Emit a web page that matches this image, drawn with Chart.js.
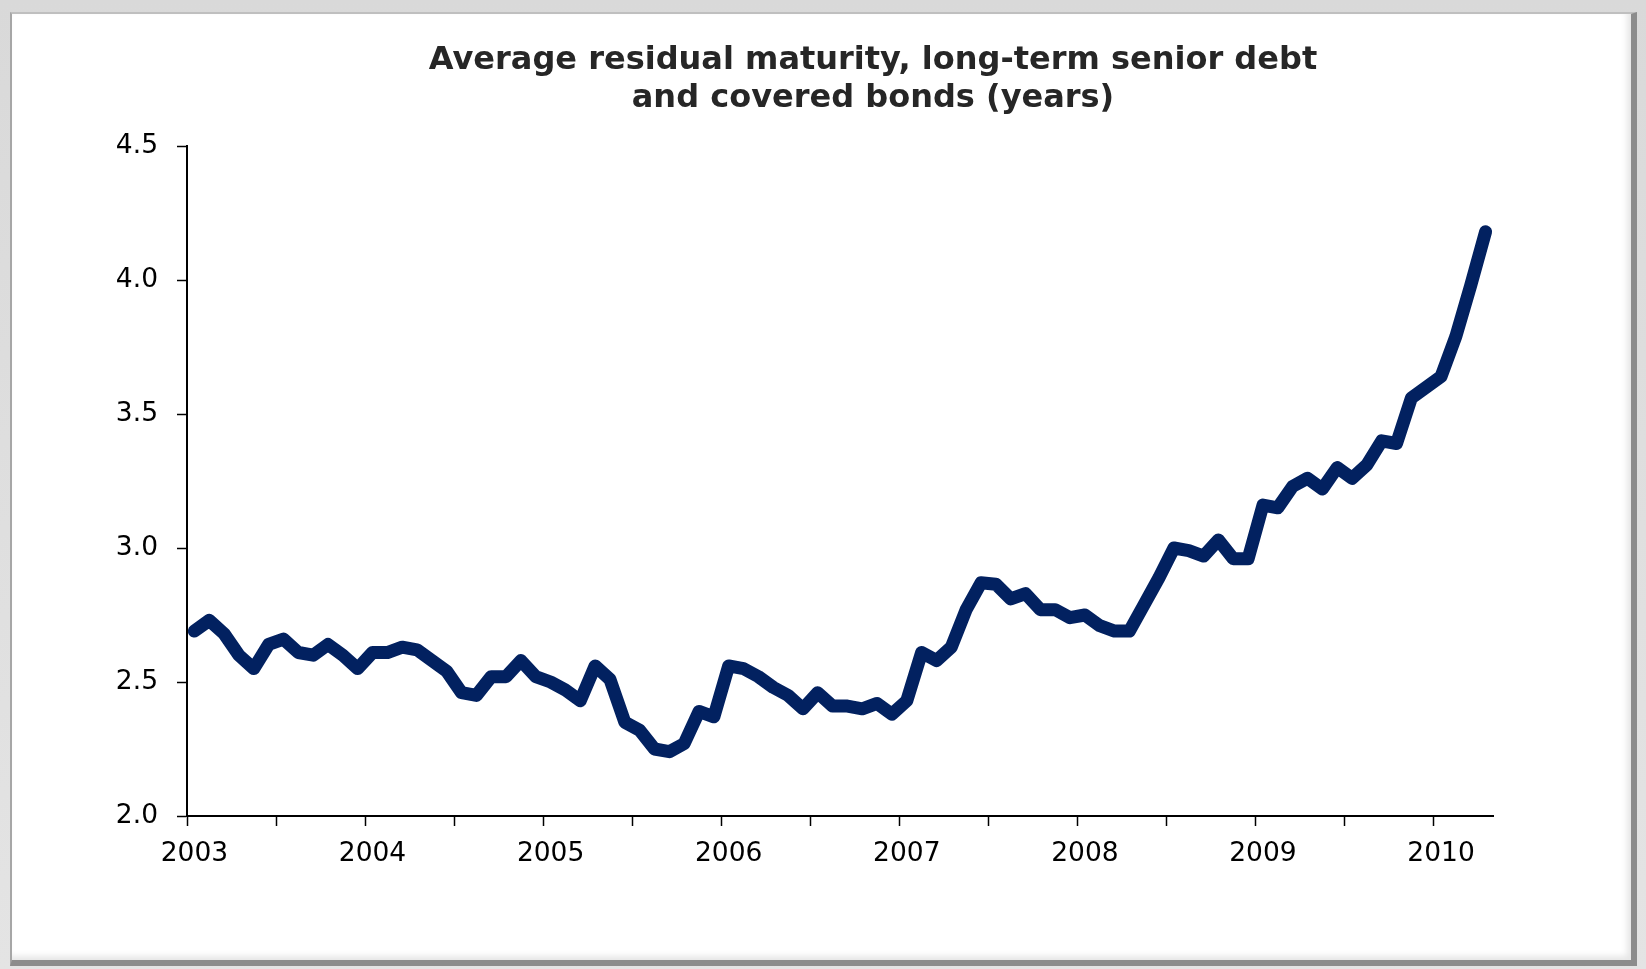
<!DOCTYPE html>
<html>
<head>
<meta charset="utf-8">
<script src="https://cdn.jsdelivr.net/npm/chart.js@4/dist/chart.umd.min.js"></script>
<style>
  html, body { margin: 0; padding: 0; width: 1646px; height: 969px; overflow: hidden; background: #f4f4f4; }
  #backdrop { position: absolute; left: 0; top: 0; width: 1646px; height: 969px;
    background: linear-gradient(#d9d9d9, #e4e4e4); }
  #panel { position: absolute; left: 10px; top: 12px; width: 1619px; height: 946px;
    background: #fff; border-left: 2px solid #a6a6a6; border-top: 2px solid #bfbfbf;
    border-right: 6px solid #8c8c8c; border-bottom: 6px solid #8c8c8c;
    box-shadow: inset -4px -4px 6px rgba(0,0,0,0.10); }
  #wrap { position: absolute; left: 0; top: 0; width: 1646px; height: 969px; }
</style>
</head>
<body>
<div id="backdrop"></div>
<div id="panel"></div>
<div id="wrap"><canvas id="chart" width="1646" height="969"></canvas></div>
<script>
// Average residual maturity (years), monthly observations by year
const values2003 = [2.69, 2.73, 2.68, 2.60, 2.55, 2.64, 2.66, 2.61, 2.60, 2.64, 2.60, 2.55];
const values2004 = [2.61, 2.61, 2.63, 2.62, 2.58, 2.54, 2.46, 2.45, 2.52, 2.52, 2.58, 2.52];
const values2005 = [2.50, 2.47, 2.43, 2.56, 2.51, 2.35, 2.32, 2.25, 2.24, 2.27, 2.39, 2.37];
const values2006 = [2.56, 2.55, 2.52, 2.48, 2.45, 2.40, 2.46, 2.41, 2.41, 2.40, 2.42, 2.38];
const values2007 = [2.43, 2.61, 2.58, 2.63, 2.77, 2.87, 2.865, 2.81, 2.83, 2.77, 2.77, 2.74];
const values2008 = [2.75, 2.71, 2.69, 2.69, 2.79, 2.89, 3.00, 2.99, 2.97, 3.03, 2.96, 2.96];
const values2009 = [3.16, 3.15, 3.23, 3.26, 3.22, 3.30, 3.26, 3.31, 3.40, 3.39, 3.56, 3.60];
const values2010 = [3.64, 3.79, 3.98, 4.18];

const years = ['2003', '2004', '2005', '2006', '2007', '2008', '2009', '2010'];
const yearValues = [values2003, values2004, values2005, values2006, values2007, values2008, values2009, values2010];
const yTicks = [2.0, 2.5, 3.0, 3.5, 4.0, 4.5];
const titleLines = ['Average residual maturity, long-term senior debt', 'and covered bonds (years)'];

// one category per month, labelled "YYYY-MM"
const months = [];
const series = [];
yearValues.forEach((arr, yi) => {
  arr.forEach((v, m) => {
    months.push(years[yi] + '-' + String(m + 1).padStart(2, '0'));
    series.push(v);
  });
});

const FONT = '"DejaVu Sans", Verdana, sans-serif';
const AREA = { left: 187, right: 1493, top: 146, bottom: 816 };
const TITLE_CENTER_X = 873;
const TITLE_SIZE = 32;
const TITLE_LH = 1.18;

// keeps the title centred where the layout wants it
const titleShift = {
  id: 'titleShift',
  afterLayout(chart) {
    const t = chart.titleBlock;
    if (!t) return;
    const dx = TITLE_CENTER_X - (t.left + t.right) / 2;
    t.left += dx;
    t.right += dx;
  }
};

new Chart(document.getElementById('chart'), {
  type: 'line',
  data: {
    labels: months,
    datasets: [{
      data: series,
      borderColor: '#022160',
      borderWidth: 13,
      borderJoinStyle: 'round',
      borderCapStyle: 'round',
      pointRadius: 0,
      pointHoverRadius: 0,
      tension: 0,
      fill: false
    }]
  },
  options: {
    responsive: false,
    animation: false,
    events: [],
    layout: { padding: { left: 0, right: 1646 - AREA.right, top: 0, bottom: 969 - AREA.bottom - 62 } },
    plugins: {
      legend: { display: false },
      tooltip: { enabled: false },
      title: {
        display: true,
        text: titleLines,
        color: '#262626',
        font: { family: FONT, size: TITLE_SIZE, weight: 'bold', lineHeight: TITLE_LH },
        padding: { top: 42, bottom: AREA.top - 42 - 2 * TITLE_SIZE * TITLE_LH }
      }
    },
    scales: {
      x: {
        type: 'category',
        offset: true,
        afterFit(scale) { scale.height = 62; },
        border: { display: true, color: '#000', width: 2 },
        grid: {
          offset: true,
          drawOnChartArea: false,
          drawTicks: true,
          tickLength: 10,
          tickWidth: 1.5,
          tickColor: (ctx) => (ctx.index !== undefined && ctx.index % 6 === 0) ? '#000' : 'rgba(0,0,0,0)'
        },
        ticks: {
          autoSkip: false,
          maxRotation: 0,
          minRotation: 0,
          padding: 12,
          color: '#000',
          font: { family: FONT, size: 26.5 },
          callback: (v, i) => (i % 12 === 0) ? years[i / 12] : ''
        }
      },
      y: {
        min: yTicks[0],
        max: yTicks[yTicks.length - 1],
        afterFit(scale) { scale.width = AREA.left; },
        afterBuildTicks(scale) { scale.ticks = yTicks.map(v => ({ value: v })); },
        border: { display: true, color: '#000', width: 2 },
        grid: {
          drawOnChartArea: false,
          drawTicks: true,
          tickLength: 10,
          tickWidth: 1.5,
          tickColor: '#000'
        },
        ticks: {
          padding: 19,
          color: '#000',
          font: { family: FONT, size: 26.5 },
          callback: (v) => Number(v).toFixed(1)
        }
      }
    }
  },
  plugins: [titleShift]
});
</script>
</body>
</html>
